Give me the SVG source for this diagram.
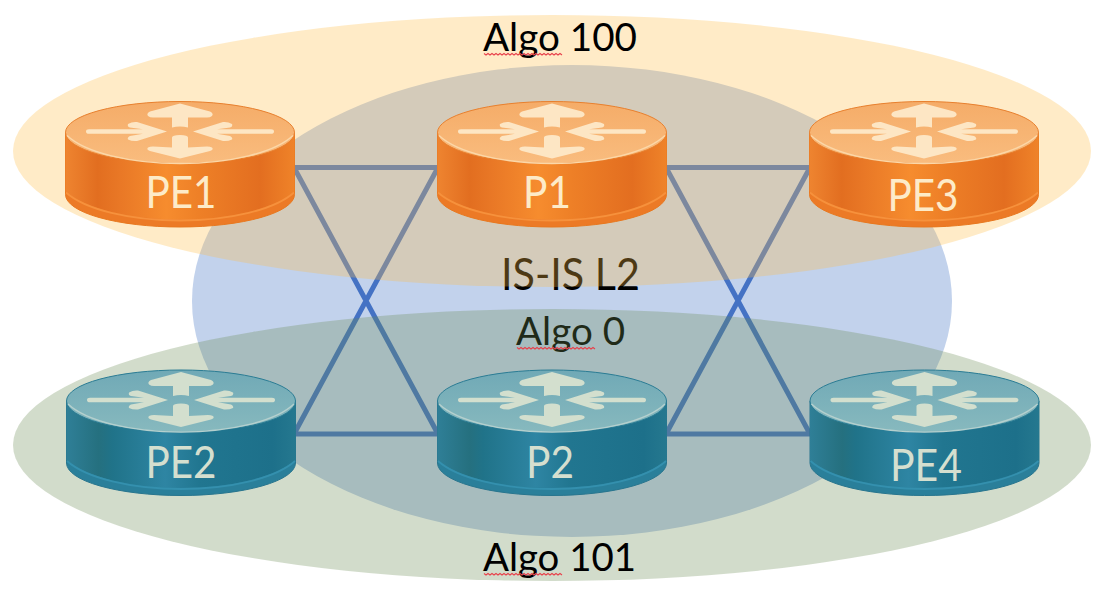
<svg xmlns="http://www.w3.org/2000/svg" xmlns:xlink="http://www.w3.org/1999/xlink" width="1103" height="594" viewBox="0 0 1103 594">
<style>
text{font-family:Lato,"Liberation Sans",sans-serif}
.big{font-size:39px;fill:#000}
.lab{font-size:45px;text-anchor:middle}
.o{--edge:#EC7A26;--edges:#E8781F;--side:url(#og);--rim:#F6913C;--top:url(#ot);--tops:#E8802E;--hl:#FBD7A8;--arr:#FDE6C4;--txt:#FDEBC8}
.t{--edge:#2A7F9A;--edges:#28758E;--side:url(#tg);--rim:#3490AE;--top:url(#tt);--tops:#2B7C94;--hl:#B5D0CE;--arr:#D3DFCE;--txt:#D5DFCF}
.lab{fill:var(--txt)}
.link{stroke:#4472C4;stroke-width:5;fill:none}
.sq{fill:none;stroke:#E8404A;stroke-width:1.1}
.edge{fill:var(--edge);stroke:var(--edges);stroke-width:1}
.side{fill:var(--side)}
.rim{stroke:var(--rim);fill:none;stroke-width:1.8}
.top{fill:var(--top);stroke:var(--tops);stroke-width:1}
.hl{fill:none;stroke:var(--hl);stroke-width:1.5}
.arr{fill:var(--arr)}
</style>
<defs>
<linearGradient id="og"><stop offset="0" stop-color="#EE8430"/><stop offset=".14" stop-color="#E26E20"/><stop offset=".24" stop-color="#E97826"/><stop offset=".44" stop-color="#F68C2E"/><stop offset=".58" stop-color="#EE8027"/><stop offset=".85" stop-color="#E36E20"/><stop offset="1" stop-color="#EF8329"/></linearGradient>
<linearGradient id="tg"><stop offset="0" stop-color="#2F7F97"/><stop offset=".14" stop-color="#25707F"/><stop offset=".2" stop-color="#207389"/><stop offset=".43" stop-color="#2E85A3"/><stop offset=".58" stop-color="#217690"/><stop offset=".9" stop-color="#1D708A"/><stop offset="1" stop-color="#25788F"/></linearGradient>
<linearGradient id="ot" x2="0" y2="1"><stop offset="0" stop-color="#F5AC68"/><stop offset="1" stop-color="#F9BC7E"/></linearGradient>
<linearGradient id="tt" x2="0" y2="1"><stop offset="0" stop-color="#70A9B6"/><stop offset="1" stop-color="#87B9BE"/></linearGradient>
<g id="body">
<path class="edge" d="M-114.5,0V62A114.5,32.5 0 0 0 114.5,62V0Z"/>
<path class="side" d="M-114.5,0V59C-95,76 -50,87 0,87S95,76 114.500,59V0Z"/>
<path class="rim" d="M-114,60C-95,77 -50,88 0,88S95,77 114,60"/>
<ellipse class="top" rx="114.500" ry="31"/>
<path class="hl" d="M-113,3C-95,20 -50,31 0,31S95,20 113,3"/>
<path class="arr" d="M0,-29L30,-21Q34,-19 32,-16.500Q30,-15 27,-15L8,-15V-5Q0,-7 -8,-5V-15L-27,-15Q-30,-15 -32,-16.500Q-34,-19 -30,-21Z"/>
<path class="arr" d="M0,26L30,18.500Q34,17 32,15Q30,14 27,14L8,15V5Q8,2.500 0,2.500Q-8,2.500 -8,5V15L-27,14Q-30,14 -32,15Q-34,17 -30,18.500Z"/>
<path class="arr" d="M-13,-1L-43,-10.500Q-48,-11 -52,-8.500Q-53,-6 -50,-5L-37,-3.300H-91Q-94,-3.300 -94,-1Q-94,1.300 -91,1.300H-37L-50,3.500Q-53,5 -52,7Q-48,9 -43,8.500Z"/>
<path class="arr" d="M13,-1L43,-10.500Q48,-11 52,-8.500Q53,-6 50,-5L37,-3.300H91Q94,-3.300 94,-1Q94,1.300 91,1.300H37L50,3.500Q53,5 52,7Q48,9 43,8.500Z"/>
</g>
</defs>
<rect width="1103" height="594" fill="#fff"/>
<ellipse id="isis-area" cx="572" cy="301" rx="380" ry="236" fill="#C2D2EC"/>
<g id="connectors">
<path class="link" d="M294,167.500H438M294,167.500L438,434M294,434L438,167.500M294,434H438"/>
<path class="link" d="M666,167.500H810M666,167.500L810,434M666,434L810,167.500M666,434H810"/>
</g>
<text id="isis-label" class="big" x="501" y="290" textLength="139" lengthAdjust="spacingAndGlyphs" style="font-size:44px">IS-IS L2</text>
<text id="algo0-label" class="big" x="516" y="345" textLength="109" lengthAdjust="spacingAndGlyphs">Algo 0</text>
<ellipse id="algo100-area" cx="552" cy="151" rx="539" ry="136" fill="#FFBC47" fill-opacity=".3"/>
<ellipse id="algo101-area" cx="552" cy="445" rx="539" ry="136" fill="#698A52" fill-opacity=".3"/>
<text id="algo100-label" class="big" x="483" y="51" textLength="154" lengthAdjust="spacingAndGlyphs">Algo 100</text>
<text id="algo101-label" class="big" x="483" y="571" textLength="153" lengthAdjust="spacingAndGlyphs">Algo 101</text>
<g id="spellcheck-marks">
<path class="sq" d="M484,53.500l2,1.500 2,-1.500 2,1.500 2,-1.500 2,1.500 2,-1.500 2,1.500 2,-1.500 2,1.500 2,-1.500 2,1.500 2,-1.500 2,1.500 2,-1.500 2,1.500 2,-1.500 2,1.500 2,-1.500 2,1.500 2,-1.500 2,1.500 2,-1.500 2,1.500 2,-1.500 2,1.500 2,-1.500 2,1.500 2,-1.500 2,1.500 2,-1.500 2,1.500 2,-1.500 2,1.500 2,-1.500 2,1.500 2,-1.500 2,1.500 2,-1.500 2,1.500"/>
<path class="sq" d="M517,347.500l2,1.500 2,-1.500 2,1.500 2,-1.500 2,1.500 2,-1.500 2,1.500 2,-1.500 2,1.500 2,-1.500 2,1.500 2,-1.500 2,1.500 2,-1.500 2,1.500 2,-1.500 2,1.500 2,-1.500 2,1.500 2,-1.500 2,1.500 2,-1.500 2,1.500 2,-1.500 2,1.500 2,-1.500 2,1.500 2,-1.500 2,1.500 2,-1.500 2,1.500 2,-1.500 2,1.500 2,-1.500 2,1.500 2,-1.500 2,1.500 2,-1.500 2,1.500"/>
<path class="sq" d="M484,573.500l2,1.500 2,-1.500 2,1.500 2,-1.500 2,1.500 2,-1.500 2,1.500 2,-1.500 2,1.500 2,-1.500 2,1.500 2,-1.500 2,1.500 2,-1.500 2,1.500 2,-1.500 2,1.500 2,-1.500 2,1.500 2,-1.500 2,1.500 2,-1.500 2,1.500 2,-1.500 2,1.500 2,-1.500 2,1.500 2,-1.500 2,1.500 2,-1.500 2,1.500 2,-1.500 2,1.500 2,-1.500 2,1.500 2,-1.500 2,1.500 2,-1.500 2,1.500"/>
</g>
<g id="PE1" class="o"><use xlink:href="#body" href="#body" x="180" y="132.500"/><text class="lab" x="181" y="208" textLength="71" lengthAdjust="spacingAndGlyphs">PE1</text></g>
<g id="P1" class="o"><use xlink:href="#body" href="#body" x="552" y="132.500"/><text class="lab" x="547" y="208" textLength="48" lengthAdjust="spacingAndGlyphs">P1</text></g>
<g id="PE3" class="o"><use xlink:href="#body" href="#body" x="924" y="132.500"/><text class="lab" x="923" y="211" textLength="71" lengthAdjust="spacingAndGlyphs">PE3</text></g>
<g id="PE2" class="t"><use xlink:href="#body" href="#body" x="181" y="401"/><text class="lab" x="181" y="478" textLength="71" lengthAdjust="spacingAndGlyphs">PE2</text></g>
<g id="P2" class="t"><use xlink:href="#body" href="#body" x="552" y="401"/><text class="lab" x="550" y="478" textLength="48" lengthAdjust="spacingAndGlyphs">P2</text></g>
<g id="PE4" class="t"><use xlink:href="#body" href="#body" x="924.500" y="401"/><text class="lab" x="926" y="481" textLength="72" lengthAdjust="spacingAndGlyphs">PE4</text></g>
</svg>
